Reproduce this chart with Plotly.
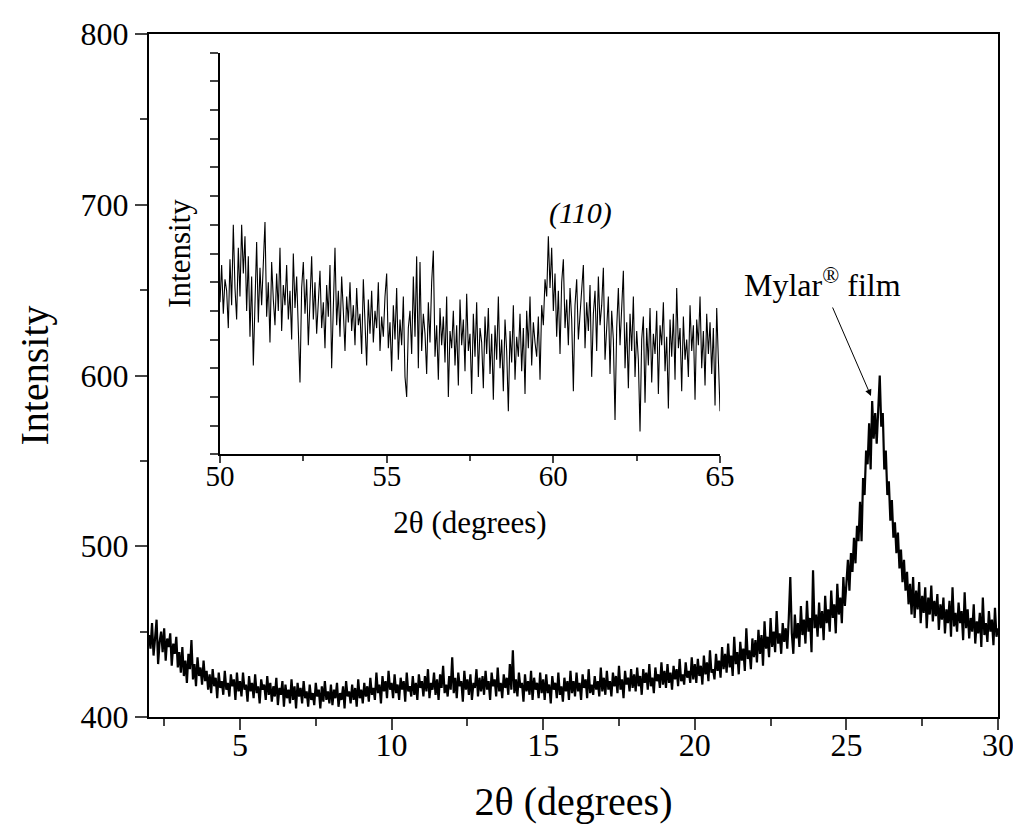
import plotly.graph_objects as go

# main scan, 2theta from 2 to 30 deg, 0.05 deg steps
main_start = 2.0
main_step = 0.05
main_intensity = [
    448, 440, 455, 436, 446, 457, 431, 444, 450, 438, 452, 433, 446, 441, 449, 430, 443, 437, 447, 429,
    438, 426, 441, 424, 433, 420, 437, 428, 445, 422, 431, 418, 435, 424, 429, 419, 433, 421, 427, 416,
    425, 414, 428, 418, 423, 411, 426, 417, 421, 413, 427, 416, 420, 412, 425, 418, 422, 410, 426, 415,
    421, 412, 426, 416, 419, 409, 424, 415, 420, 411, 425, 414, 418, 408, 422, 416, 419, 410, 424, 413,
    420, 409, 418, 412, 423, 407, 417, 413, 421, 406, 419, 411, 416, 408, 422, 410, 418, 405, 420, 412,
    417, 408, 421, 411, 415, 406, 419, 410, 414, 407, 420, 412, 416, 405, 418, 409, 421, 410, 415, 408,
    419, 407, 416, 411, 420, 406, 414, 410, 418, 405, 421, 412, 415, 408, 419, 410, 417, 406, 422, 411,
    416, 408, 420, 412, 418, 409, 423, 413, 417, 410, 426, 414, 419, 408, 424, 415, 421, 411, 427, 416,
    420, 411, 425, 414, 419, 410, 423, 416, 421, 409, 426, 415, 418, 412, 424, 413, 420, 410, 425, 417,
    421, 412, 424, 415, 428, 411, 420, 416, 426, 413, 422, 410, 425, 417, 430, 414, 419, 412, 424, 416,
    435, 414, 423, 411, 426, 418, 421, 409, 427, 416, 422, 413, 425, 410, 420, 417, 428, 412, 423, 415,
    424, 413, 427, 416, 421, 410, 426, 418, 422, 412, 429, 415, 420, 411, 425, 417, 423, 413, 431, 416,
    439, 414, 422, 412, 426, 417, 420, 409, 425, 415, 421, 413, 427, 410, 423, 416, 420, 411, 426, 414,
    422, 410, 425, 414, 419, 408, 424, 416, 420, 411, 426, 413, 418, 409, 423, 415, 421, 410, 427, 414,
    421, 412, 426, 415, 420, 410, 425, 417, 422, 411, 428, 414, 419, 413, 424, 416, 421, 412, 429, 415,
    423, 413, 427, 416, 421, 412, 426, 418, 424, 414, 430, 416, 422, 411, 427, 419, 423, 415, 428, 417,
    425, 415, 429, 418, 424, 413, 428, 420, 426, 416, 431, 418, 423, 414, 429, 421, 425, 417, 432, 419,
    427, 417, 431, 420, 426, 416, 430, 422, 428, 418, 434, 421, 425, 419, 432, 423, 427, 420, 435, 422,
    431, 420, 434, 424, 430, 419, 436, 425, 432, 421, 439, 426, 428, 422, 437, 427, 433, 423, 441, 428,
    437, 426, 443, 429, 436, 424, 447, 431, 438, 425, 444, 433, 440, 427, 452, 434, 439, 428, 446, 435,
    445, 432, 451, 437, 448, 430, 456, 440, 447, 435, 458, 441, 450, 438, 462, 443, 449, 437, 455, 444,
    452, 440, 458, 482, 449, 437, 460, 446, 455, 441, 465, 448, 457, 443, 468, 450, 458, 438, 486, 452,
    460, 447, 467, 452, 462, 445, 471, 455, 463, 450, 474, 458, 466, 449, 478, 460, 470, 455, 482, 465,
    478, 492, 474, 496, 485, 505, 490, 512, 503, 526, 503, 540, 530, 556, 548, 572, 545, 585, 563, 578,
    560, 584, 600, 570, 578, 545, 556, 530, 538, 515, 527, 505, 514, 496, 508, 487, 498, 479, 492, 474,
    485, 466, 478, 460, 482, 458, 474, 463, 479, 455, 471, 461, 476, 452, 470, 460, 477, 456, 468, 459,
    472, 451, 466, 457, 470, 449, 463, 455, 468, 447, 476, 453, 461, 450, 467, 455, 462, 445, 473, 452,
    463, 446, 458, 450, 466, 443, 456, 449, 461, 441, 470, 448, 455, 444, 462, 450, 457, 442, 464, 447,
    452,
]

# inset scan, 2theta from 50 to 65 deg (arbitrary intensity units)
inset_start = 50.0
inset_step = 0.05
inset_intensity = [
    53, 66, 49, 61, 57, 44, 68, 52, 80, 58, 47, 72, 55, 80, 63, 76, 50, 69, 41, 62,
    31, 58, 74, 46, 65, 52, 70, 81, 48, 60, 39, 67, 54, 45, 63, 50, 72, 43, 59, 52,
    66, 47, 57, 40, 70, 51, 62, 45, 25, 58, 67, 49, 61, 38, 55, 69, 47, 60, 42, 56,
    64, 44, 53, 37, 59, 48, 66, 30, 52, 72, 45, 57, 41, 62, 50, 36, 55, 46, 60, 43,
    52, 38, 58, 45, 49, 35, 61, 47, 31, 54, 42, 57, 39, 50, 44, 60, 36, 48, 41, 55,
    63, 37, 46, 29, 52, 40, 58, 33, 47, 38, 55, 27, 20, 44, 50, 35, 62, 41, 69, 30,
    67, 36, 49, 42, 28, 53, 39, 60, 71, 34, 45, 26, 51, 38, 48, 32, 55, 20, 43, 37,
    50, 31, 45, 24, 54, 38, 47, 29, 56, 36, 42, 21, 49, 34, 53, 27, 44, 39, 23, 48,
    35, 51, 28, 42, 19, 45, 33, 55, 30, 40, 22, 47, 36, 15, 43, 32, 52, 26, 41, 34,
    49, 29, 44, 21, 50, 37, 55, 31, 46, 39, 34, 48, 26, 52, 45, 61, 55, 76, 58, 72,
    50, 63, 41, 57, 35, 60, 68, 44, 54, 38, 58, 47, 22, 52, 61, 40, 49, 55, 66, 37,
    53, 43, 59, 27, 49, 57, 36, 62, 45, 52, 65, 33, 47, 55, 28, 50, 40, 12, 44, 58,
    38, 52, 64, 30, 46, 23, 49, 36, 55, 27, 43, 33, 8, 40, 48, 18, 44, 31, 51, 25,
    42, 35, 50, 21, 45, 38, 53, 29, 41, 16, 47, 34, 49, 26, 58, 37, 44, 22, 48, 33,
    40, 27, 52, 36, 45, 19, 47, 38, 55, 30, 43, 24, 49, 35, 46, 28, 44, 17, 51, 33,
    15,
]

two_theta = [round(main_start + main_step * i, 2) for i in range(len(main_intensity))]
two_theta_inset = [round(inset_start + inset_step * i, 2) for i in range(len(inset_intensity))]

FONT = "Liberation Serif"

fig = go.Figure()
fig.add_trace(go.Scatter(x=two_theta, y=main_intensity, mode="lines",
                         line=dict(color="black", width=2.2), showlegend=False))
fig.add_trace(go.Scatter(x=two_theta_inset, y=inset_intensity, mode="lines",
                         line=dict(color="black", width=1.1), showlegend=False,
                         xaxis="x2", yaxis="y2"))

# page body adds an 8px margin, so the figure is a bit smaller than the window
fig.update_layout(
    width=1005, height=820,
    margin=dict(l=141, r=15, t=26, b=111),
    paper_bgcolor="white", plot_bgcolor="white",
    font=dict(family=FONT, color="black"),
    xaxis=dict(range=[2, 30], tick0=0, dtick=5, ticks="outside", ticklen=11, tickwidth=2,
               showline=True, linewidth=2, linecolor="black", mirror=True, automargin=False,
               showgrid=False, zeroline=False, tickfont=dict(size=32), ticklabelstandoff=-12,
               ticklabeloverflow="allow",
               minor=dict(dtick=2.5, ticks="outside", ticklen=7, tickwidth=2),
               title=dict(text="2θ (degrees)", font=dict(size=40), standoff=25)),
    yaxis=dict(range=[400, 800], dtick=100, ticks="outside", ticklen=12, tickwidth=2,
               showline=True, linewidth=2, linecolor="black", mirror=True, automargin=False,
               showgrid=False, zeroline=False, tickfont=dict(size=32),
               ticklabeloverflow="allow",
               minor=dict(dtick=50, ticks="outside", ticklen=7, tickwidth=2),
               title=dict(text="Intensity", font=dict(size=40), standoff=20)),
    xaxis2=dict(domain=[0.0836, 0.6726], anchor="y2", range=[50, 65], tick0=50, dtick=5,
                ticks="outside", ticklen=7, tickwidth=1.5, automargin=False,
                showline=True, linewidth=1.5, linecolor="black", ticklabelstandoff=-12,
                showgrid=False, zeroline=False, tickfont=dict(size=29),
                minor=dict(dtick=2.5, ticks="outside", ticklen=5, tickwidth=1.5),
                title=dict(text="2θ (degrees)", font=dict(size=31), standoff=20)),
    yaxis2=dict(domain=[0.3846, 0.9726], anchor="x2", range=[0, 140], dtick=10,
                ticks="outside", ticklen=8, tickwidth=1.5, showticklabels=False,
                showline=True, linewidth=1.5, linecolor="black", automargin=False,
                showgrid=False, zeroline=False,
                title=dict(text="Intensity", font=dict(size=31), standoff=10)),
)

fig.add_annotation(x=60.8, y=84, xref="x2", yref="y2", text="<i>(110)</i>",
                   showarrow=False, font=dict(size=30))
fig.add_annotation(x=24.2, y=654, xref="x", yref="y", text="Mylar<sup>®</sup> film",
                   showarrow=False, font=dict(size=32))
fig.add_annotation(x=25.81, y=588, xref="x", yref="y", text="", showarrow=True,
                   ax=-39, ay=-90, arrowhead=2, arrowsize=1.3, arrowwidth=1,
                   arrowcolor="black", standoff=0)

fig.write_html("out.html")
